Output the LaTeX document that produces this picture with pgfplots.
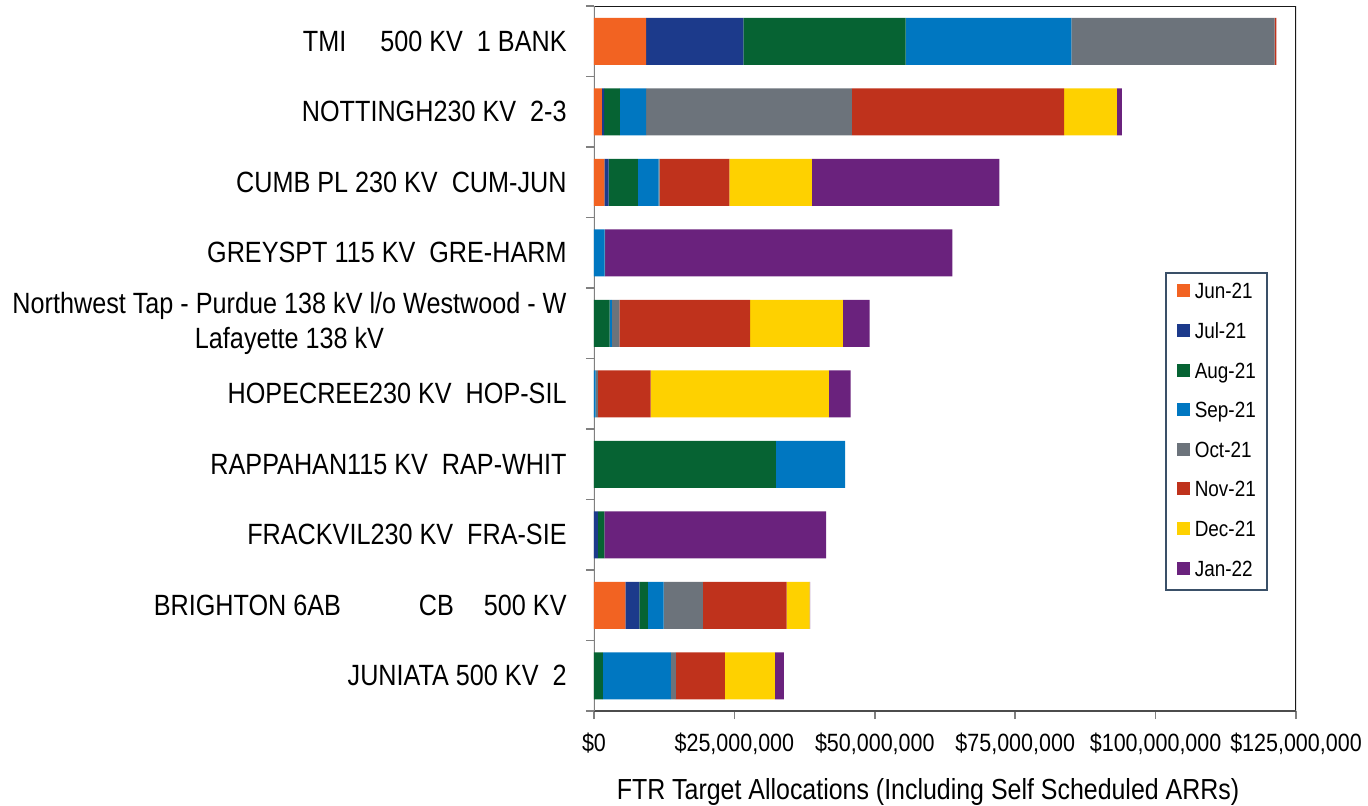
\documentclass[border=0pt]{standalone}
\usepackage{fontspec}
\setmainfont{Liberation Sans}[FakeStretch=0.86]
\usepackage{pgfplots}
\usepackage{pgfplotstable}
\pgfplotsset{compat=1.18}
\definecolor{cJun}{HTML}{F26322}
\definecolor{cJul}{HTML}{1C3A8B}
\definecolor{cAug}{HTML}{066333}
\definecolor{cSep}{HTML}{0077C1}
\definecolor{cOct}{HTML}{6C737B}
\definecolor{cNov}{HTML}{BF321C}
\definecolor{cDec}{HTML}{FED100}
\definecolor{cJan}{HTML}{6A227D}
\definecolor{legframe}{HTML}{3A5068}
% values in millions of dollars
\pgfplotstableread{
y jun jul aug sep oct nov dec jan
0 9.3 17.3 28.9 29.5 36.2 0.3 0 0
1 1.4 0.4 2.8 4.7 36.6 37.8 9.4 0.9
2 1.85 0.75 5.2 3.7 0.2 12.4 14.7 33.4
3 0 0 0 1.9 0.1 0 0 61.8
4 0 0 2.8 0.4 1.3 23.3 16.5 4.8
5 0 0 0 0.3 0.4 9.4 31.7 3.9
6 0 0 32.4 12.3 0 0 0 0
7 0 0.7 1.15 0 0 0 0 39.5
8 5.6 2.5 1.5 2.8 7.0 14.9 4.1 0.1
9 0 0 1.6 12.1 0.9 8.7 8.9 1.6
}\data
\begin{document}
\begin{tikzpicture}
\path[use as bounding box] (-297pt,-47.5pt) rectangle (387pt,355.5pt);
\begin{axis}[
  at={(0,0)}, anchor=south west,
  width=351pt, height=352.5pt, scale only axis,
  xbar stacked, bar width=23.5pt,
  y dir=reverse,
  xmin=0, xmax=125, ymin=-0.5, ymax=9.5,
  axis line style={draw=none},
  tick align=outside, tick pos=left,
  tick style={color=black!50, line width=0.8pt},
  major tick length=4pt, minor tick length=4pt,
  every major y tick/.append style={draw=none},
  xtick={0,25,50,75,100,125},
  xticklabels={{\$0},{\$25,000,000},{\$50,000,000},{\$75,000,000},{\$100,000,000},{\$125,000,000}},
  xticklabel style={font=\fontsize{12.5}{14}\selectfont, anchor=base, yshift=-16pt, inner sep=0pt},
  ytick={0,...,9},
  minor ytick={-0.5,0.5,1.5,2.5,3.5,4.5,5.5,6.5,7.5,8.5,9.5},
  yticklabels={
    {TMI\hspace{17pt}500 KV\ \ 1 BANK},
    {NOTTINGH230 KV\ \ 2-3},
    {CUMB PL 230 KV\ \ CUM-JUN},
    {GREYSPT 115 KV\ \ GRE-HARM},
    {Northwest Tap - Purdue 138 kV l/o Westwood - W\\Lafayette 138 kV},
    {HOPECREE230 KV\ \ HOP-SIL},
    {RAPPAHAN115 KV\ \ RAP-WHIT},
    {FRACKVIL230 KV\ \ FRA-SIE},
    {BRIGHTON 6AB\hspace{39pt}CB\hspace{15pt}500 KV},
    {JUNIATA 500 KV\ \ 2}},
  yticklabel style={font=\fontsize{14.65}{17.5}\selectfont, align=center, anchor=east, inner sep=0pt, xshift=-9.5pt},
  xlabel={FTR Target Allocations (Including Self Scheduled ARRs)},
  xlabel style={font=\fontsize{14.5}{17}\selectfont, at={(axis description cs:0.4758,0)}, anchor=center, yshift=-40.5pt},
  legend style={at={(axis description cs:0.8134,0.6227)}, anchor=north west,
    draw=legframe, line width=0.8pt, fill=white,
    font=\fontsize{11}{12}\selectfont,
    inner xsep=5.5pt, inner ysep=5pt, row sep=9.8pt, column sep=2.5pt,
    nodes={inner sep=0pt, text height=8pt, text depth=2pt}},
  legend cell align=left,
  sq/.style={legend image code/.code={\fill[##1] (0pt,-2.25pt) rectangle (6.5pt,4.25pt);}},
]
\addplot[fill=cJun, draw=none, sq] table[x=jun, y=y] {\data};
\addplot[fill=cJul, draw=none, sq] table[x=jul, y=y] {\data};
\addplot[fill=cAug, draw=none, sq] table[x=aug, y=y] {\data};
\addplot[fill=cSep, draw=none, sq] table[x=sep, y=y] {\data};
\addplot[fill=cOct, draw=none, sq] table[x=oct, y=y] {\data};
\addplot[fill=cNov, draw=none, sq] table[x=nov, y=y] {\data};
\addplot[fill=cDec, draw=none, sq] table[x=dec, y=y] {\data};
\addplot[fill=cJan, draw=none, sq] table[x=jan, y=y] {\data};
\legend{Jun-21,Jul-21,Aug-21,Sep-21,Oct-21,Nov-21,Dec-21,Jan-22}
\draw[black!50, line width=0.8pt] (axis description cs:0,1) -- (axis description cs:0,0);
\draw[black!70, line width=0.8pt] (axis description cs:0,0) -- (axis description cs:1,0);
\draw[black!90, line width=0.8pt] (axis description cs:0,1) -- (axis description cs:1,1) -- (axis description cs:1,0);
\end{axis}
\end{tikzpicture}
\end{document}
